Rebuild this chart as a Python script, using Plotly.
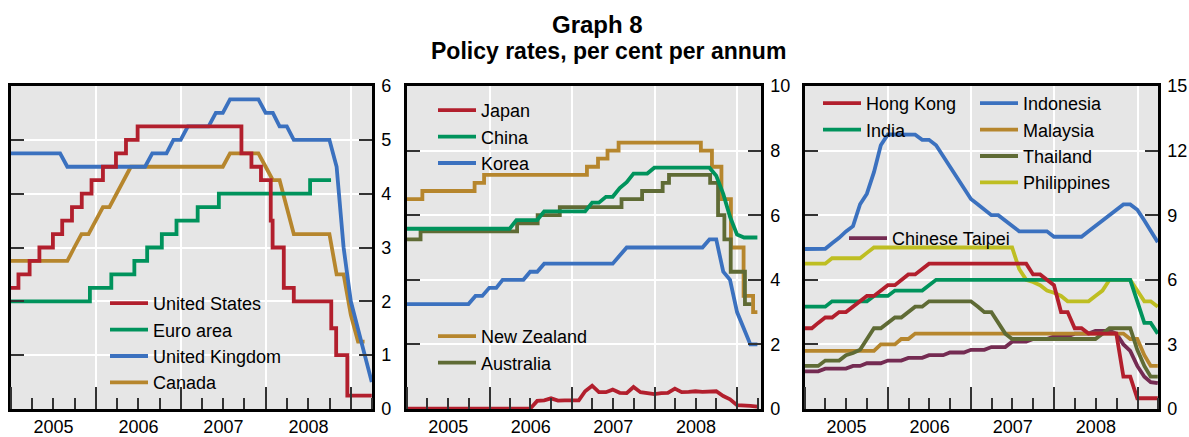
import pandas as pd
import plotly.graph_objects as go

# ---------------- data ----------------
# month-end dates, Dec 2004 .. Mar 2009 (52 months)
month_ends = (pd.date_range("2004-12-01", periods=52, freq="MS") + pd.offsets.MonthEnd(0)).strftime("%Y-%m-%d").tolist()

# Panel 1 -- step series (dates of changes)
us_dates = ["2004-12-31", "2005-02-02", "2005-03-22", "2005-05-03", "2005-06-30", "2005-08-09",
            "2005-09-20", "2005-11-01", "2005-12-13", "2006-01-31", "2006-03-28", "2006-05-10",
            "2006-06-29", "2007-09-18", "2007-10-31", "2007-12-11", "2008-01-22", "2008-01-30",
            "2008-03-18", "2008-04-30", "2008-10-08", "2008-10-29", "2008-12-16", "2009-03-31"]
us_rate = [2.25, 2.5, 2.75, 3.0, 3.25, 3.5, 3.75, 4.0, 4.25, 4.5, 4.75, 5.0,
           5.25, 4.75, 4.5, 4.25, 3.5, 3.0, 2.25, 2.0, 1.5, 1.0, 0.25, 0.25]

euro_dates = ["2004-12-31", "2005-12-06", "2006-03-08", "2006-06-15", "2006-08-09", "2006-10-11",
              "2006-12-13", "2007-03-14", "2007-06-13", "2008-07-09", "2008-10-07"]
euro_rate = [2.0, 2.25, 2.5, 2.75, 3.0, 3.25, 3.5, 3.75, 4.0, 4.25, 4.25]

# Panel 1 -- monthly series
uk_rate = [4.75, 4.75, 4.75, 4.75, 4.75, 4.75, 4.75, 4.75, 4.5, 4.5, 4.5, 4.5, 4.5,
           4.5, 4.5, 4.5, 4.5, 4.5, 4.5, 4.5, 4.75, 4.75, 4.75, 5.0, 5.0,
           5.25, 5.25, 5.25, 5.25, 5.5, 5.5, 5.75, 5.75, 5.75, 5.75, 5.75, 5.5,
           5.5, 5.25, 5.25, 5.0, 5.0, 5.0, 5.0, 5.0, 5.0, 4.5, 3.0, 2.0,
           1.5, 1.0, 0.5]
canada_rate = [2.75, 2.75, 2.75, 2.75, 2.75, 2.75, 2.75, 2.75, 2.75, 3.0, 3.25, 3.25, 3.5,
               3.75, 3.75, 4.0, 4.25, 4.5, 4.5, 4.5, 4.5, 4.5, 4.5, 4.5, 4.5,
               4.5, 4.5, 4.5, 4.5, 4.5, 4.5, 4.75, 4.75, 4.75, 4.75, 4.75, 4.5,
               4.25, 4.25, 3.75, 3.25, 3.25, 3.25, 3.25, 3.25, 3.25, 2.5, 2.5, 1.75,
               1.25, 1.25, None]

# Panel 2
japan_rate = [0.01] * 19 + [0.25, 0.27, 0.33, 0.26, 0.27, 0.27,
              0.27, 0.55, 0.72, 0.52, 0.52, 0.6, 0.5, 0.49, 0.68, 0.52, 0.5, 0.46,
              0.49, 0.5, 0.63, 0.52, 0.53, 0.55, 0.53, 0.53, 0.55, 0.4, 0.3, 0.12,
              0.12, 0.1, 0.07]
china_rate = [5.58] * 16 + [5.85, 5.85, 5.85, 5.85, 6.12, 6.12, 6.12, 6.12, 6.12,
              6.12, 6.12, 6.39, 6.39, 6.57, 6.57, 6.84, 7.02, 7.29, 7.29, 7.29, 7.47,
              7.47, 7.47, 7.47, 7.47, 7.47, 7.47, 7.47, 7.47, 7.22, 6.66, 5.95, 5.4,
              5.31, 5.31, 5.31]
korea_rate = [3.25, 3.25, 3.25, 3.25, 3.25, 3.25, 3.25, 3.25, 3.25, 3.25, 3.5, 3.5, 3.75,
              3.75, 4.0, 4.0, 4.0, 4.0, 4.25, 4.25, 4.5, 4.5, 4.5, 4.5, 4.5,
              4.5, 4.5, 4.5, 4.5, 4.5, 4.5, 4.75, 5.0, 5.0, 5.0, 5.0, 5.0,
              5.0, 5.0, 5.0, 5.0, 5.0, 5.0, 5.0, 5.25, 5.25, 4.25, 4.0, 3.0,
              2.5, 2.0, 2.0]
nz_dates = ["2004-12-31", "2005-03-10", "2005-10-27", "2005-12-08", "2007-03-08", "2007-04-26",
            "2007-06-07", "2007-07-26", "2008-07-24", "2008-09-11", "2008-10-23", "2008-12-04",
            "2009-01-29", "2009-03-12", "2009-03-31"]
nz_rate = [6.5, 6.75, 7.0, 7.25, 7.5, 7.75, 8.0, 8.25, 8.0, 7.5, 6.5, 5.0, 3.5, 3.0, 3.0]
aus_dates = ["2004-12-31", "2005-03-02", "2006-05-03", "2006-08-02", "2006-11-08", "2007-08-08",
             "2007-11-07", "2008-02-06", "2008-03-05", "2008-09-03", "2008-10-08", "2008-11-05",
             "2008-12-03", "2009-02-04", "2009-03-04"]
aus_rate = [5.25, 5.5, 5.75, 6.0, 6.25, 6.5, 6.75, 7.0, 7.25, 7.0, 6.0, 5.25, 4.25, 3.25, 3.25]

# Panel 3
hk_rate = [3.75, 3.75, 4.0, 4.25, 4.25, 4.5, 4.5, 4.75, 5.0, 5.25, 5.25, 5.5, 5.75,
           5.75, 6.0, 6.25, 6.25, 6.5, 6.75, 6.75, 6.75, 6.75, 6.75, 6.75, 6.75,
           6.75, 6.75, 6.75, 6.75, 6.75, 6.75, 6.75, 6.75, 6.25, 6.25, 6.0, 5.75,
           4.5, 4.5, 3.75, 3.75, 3.5, 3.5, 3.5, 3.5, 3.5, 1.5, 1.5, 0.5,
           0.5, 0.5, 0.5]
india_rate = [4.75, 4.75, 4.75, 4.75, 5.0, 5.0, 5.0, 5.0, 5.0, 5.0, 5.25, 5.25, 5.25,
              5.5, 5.5, 5.5, 5.5, 5.5, 5.75, 6.0, 6.0, 6.0, 6.0, 6.0, 6.0,
              6.0, 6.0, 6.0, 6.0, 6.0, 6.0, 6.0, 6.0, 6.0, 6.0, 6.0, 6.0,
              6.0, 6.0, 6.0, 6.0, 6.0, 6.0, 6.0, 6.0, 6.0, 6.0, 6.0, 5.0,
              4.0, 4.0, 3.5]
indonesia_rate = [7.43, 7.42, 7.43, 7.44, 7.70, 7.95, 8.25, 8.49, 9.51, 10.0, 11.0, 12.25, 12.75,
                  12.75, 12.74, 12.73, 12.74, 12.5, 12.5, 12.25, 11.75, 11.25, 10.75, 10.25, 9.75,
                  9.5, 9.25, 9.0, 9.0, 8.75, 8.5, 8.25, 8.25, 8.25, 8.25, 8.25, 8.0,
                  8.0, 8.0, 8.0, 8.0, 8.25, 8.5, 8.75, 9.0, 9.25, 9.5, 9.5, 9.25,
                  8.75, 8.25, 7.75]
malaysia_rate = [2.7, 2.7, 2.7, 2.7, 2.7, 2.7, 2.7, 2.7, 2.7, 2.7, 2.7, 3.0, 3.0,
                 3.0, 3.25, 3.25, 3.5, 3.5, 3.5, 3.5, 3.5, 3.5, 3.5, 3.5, 3.5,
                 3.5, 3.5, 3.5, 3.5, 3.5, 3.5, 3.5, 3.5, 3.5, 3.5, 3.5, 3.5,
                 3.5, 3.5, 3.5, 3.5, 3.5, 3.5, 3.5, 3.5, 3.5, 3.5, 3.25, 3.25,
                 2.5, 2.0, 2.0]
thailand_rate = [2.0, 2.0, 2.0, 2.25, 2.25, 2.25, 2.5, 2.6, 2.75, 3.25, 3.75, 3.75, 4.0,
                 4.25, 4.25, 4.5, 4.75, 4.75, 5.0, 5.0, 5.0, 5.0, 5.0, 5.0, 5.0,
                 4.75, 4.5, 4.5, 4.0, 3.5, 3.25, 3.25, 3.25, 3.25, 3.25, 3.25, 3.25,
                 3.25, 3.25, 3.25, 3.25, 3.25, 3.25, 3.5, 3.75, 3.75, 3.75, 3.75, 2.75,
                 2.0, 1.5, 1.5]
philippines_rate = [6.75, 6.75, 6.75, 6.75, 7.0, 7.0, 7.0, 7.0, 7.0, 7.25, 7.5, 7.5, 7.5,
                    7.5, 7.5, 7.5, 7.5, 7.5, 7.5, 7.5, 7.5, 7.5, 7.5, 7.5, 7.5,
                    7.5, 7.5, 7.5, 7.5, 7.5, 7.5, 6.5, 6.0, 5.9, 5.75, 5.5, 5.4,
                    5.25, 5.0, 5.0, 5.0, 5.0, 5.25, 5.5, 6.0, 6.0, 6.0, 6.0, 5.5,
                    5.0, 5.0, 4.75]
taipei_rate = [1.75, 1.75, 1.75, 1.875, 1.875, 1.875, 1.875, 2.0, 2.0, 2.125, 2.125, 2.125, 2.25,
               2.25, 2.25, 2.375, 2.375, 2.375, 2.5, 2.5, 2.5, 2.625, 2.625, 2.625, 2.75,
               2.75, 2.75, 2.875, 2.875, 2.875, 3.125, 3.125, 3.125, 3.25, 3.25, 3.25, 3.375,
               3.375, 3.375, 3.5, 3.5, 3.5, 3.625, 3.625, 3.625, 3.5, 3.0, 2.7, 2.0,
               1.5, 1.25, 1.2]

# ---------------- styling ----------------
RED = "#B21F2D"
GREEN = "#00935C"
BLUE = "#3B71BF"
GOLD = "#B6862D"
OLIVE = "#5F6B35"
YELLOW = "#BEBE22"
PURPLE = "#742B52"
LW = 3.8
W, H = 1189, 437

fig = go.Figure()


def add(x, y, name, color, ax, leg, shape="linear"):
    fig.add_trace(go.Scatter(x=x, y=y, name=name, mode="lines",
                             line=dict(color=color, width=LW, shape=shape),
                             xaxis="x" + ax, yaxis="y" + ax, legend=leg,
                             connectgaps=False))


# panel 1
add(month_ends, canada_rate, "Canada", GOLD, "", "legend")
add(month_ends, uk_rate, "United Kingdom", BLUE, "", "legend")
add(euro_dates, euro_rate, "Euro area", GREEN, "", "legend", "hv")
add(us_dates, us_rate, "United States", RED, "", "legend", "hv")
# panel 2
add(month_ends, korea_rate, "Korea", BLUE, "2", "legend2")
add(nz_dates, nz_rate, "New Zealand", GOLD, "2", "legend3", "hv")
add(aus_dates, aus_rate, "Australia", OLIVE, "2", "legend3", "hv")
add(month_ends, china_rate, "China", GREEN, "2", "legend2")
add(month_ends, japan_rate, "Japan", RED, "2", "legend2")
# panel 3
add(month_ends, taipei_rate, "Chinese Taipei", PURPLE, "3", "legend6")
add(month_ends, malaysia_rate, "Malaysia", GOLD, "3", "legend5")
add(month_ends, thailand_rate, "Thailand", OLIVE, "3", "legend5")
add(month_ends, philippines_rate, "Philippines", YELLOW, "3", "legend5")
add(month_ends, india_rate, "India", GREEN, "3", "legend4")
add(month_ends, indonesia_rate, "Indonesia", BLUE, "3", "legend5")
add(month_ends, hk_rate, "Hong Kong", RED, "3", "legend4")

# legend ranks so entries read top-down as in the original
ranks = {"United States": 1, "Euro area": 2, "United Kingdom": 3, "Canada": 4,
         "Japan": 1, "China": 2, "Korea": 3, "New Zealand": 1, "Australia": 2,
         "Hong Kong": 1, "India": 2, "Indonesia": 1, "Malaysia": 2, "Thailand": 3,
         "Philippines": 4, "Chinese Taipei": 1}
for tr in fig.data:
    tr.legendrank = ranks[tr.name]

FONT = "Arial, Liberation Sans, sans-serif"
TICKC = "#333333"
xdomains = [[11 / W, 372 / W], [407 / W, 761 / W], [805 / W, 1158 / W]]
xranges = [["2005-01-01", "2009-04-01"], ["2005-01-01", "2009-04-16"], ["2005-01-01", "2009-04-01"]]
yranges = [[0, 6], [0, 10], [0, 15]]
ydticks = [1, 2, 3]
ydom = [1 - 409 / H, 1 - 86 / H]

layout = dict(
    width=W, height=H, margin=dict(l=0, r=0, t=0, b=0, autoexpand=False),
    paper_bgcolor="white", plot_bgcolor="#E6E6E6",
    font=dict(family=FONT, color="black", size=18),
)
for i in range(3):
    sfx = "" if i == 0 else str(i + 1)
    layout["xaxis" + sfx] = dict(
        type="date", domain=xdomains[i], range=xranges[i], anchor="y" + sfx,
        dtick="M12", tick0="2005-01-01", ticklabelmode="period", tickformat="%Y",
        ticks="inside", ticklen=22, tickwidth=1.5, tickcolor=TICKC,
        minor=dict(dtick="M3", tick0="2005-01-01", ticks="inside", ticklen=11,
                   tickwidth=1.5, tickcolor=TICKC, showgrid=False),
        showgrid=True, gridcolor="white", gridwidth=1.5,
        showline=True, linecolor="black", linewidth=2.5, mirror=True,
        zeroline=False, tickfont=dict(size=18, color="black"), fixedrange=True,
        automargin=False, ticklabelstandoff=0,
    )
    layout["yaxis" + sfx] = dict(
        domain=ydom, range=yranges[i], dtick=ydticks[i], anchor="x" + sfx, side="right",
        ticks="inside", ticklen=13, tickwidth=1.5, tickcolor=TICKC,
        showgrid=True, gridcolor="white", gridwidth=1.5,
        showline=True, linecolor="black", linewidth=2.5, mirror="ticks",
        zeroline=False, tickfont=dict(size=18, color="black"), ticklabelstandoff=3,
        fixedrange=True, automargin=False,
    )


def leg(x_px, top_px):
    return dict(x=x_px / W, y=1 - top_px / H, xanchor="left", yanchor="top",
                bgcolor="rgba(0,0,0,0)", borderwidth=0, tracegroupgap=0,
                itemwidth=38, font=dict(size=18, color="black", family=FONT),
                traceorder="normal")


layout["legend"] = leg(105, 285)
layout["legend2"] = leg(433, 92)
layout["legend3"] = leg(433, 318)
layout["legend4"] = leg(818, 85)
layout["legend5"] = leg(975, 85)
layout["legend6"] = leg(844, 220)

layout["annotations"] = [
    dict(text="<b>Graph 8</b>", x=598 / W, y=1 - 24 / H, xref="paper", yref="paper",
         xanchor="center", yanchor="middle", showarrow=False,
         font=dict(size=24, color="black", family=FONT)),
    dict(text="<b>Policy rates, per cent per annum</b>", x=608 / W, y=1 - 51 / H,
         xref="paper", yref="paper", xanchor="center", yanchor="middle", showarrow=False,
         font=dict(size=23, color="black", family=FONT)),
]
layout["showlegend"] = True
fig.update_layout(**layout)

fig.write_html("out.html", config={"displayModeBar": False},
               post_script="document.body.style.margin='0';document.body.style.overflow='hidden';")
